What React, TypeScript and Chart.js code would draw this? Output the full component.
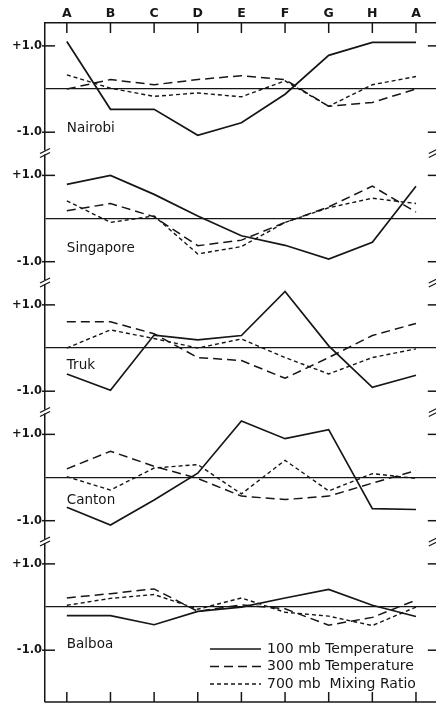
import React, { useEffect, useRef } from 'react';
import { Chart, registerables } from 'chart.js';

Chart.register(...registerables);

// ---- data ----
const categories = ['A', 'B', 'C', 'D', 'E', 'F', 'G', 'H', 'A'];
const stations = ['Nairobi', 'Singapore', 'Truk', 'Canton', 'Balboa'];
const seriesNames = ['100 mb Temperature', '300 mb Temperature', '700 mb  Mixing Ratio'];
const yTickValues = [-1, 0, 1];

const nairobi100 = [1.1, -0.47, -0.47, -1.07, -0.78, -0.12, 0.78, 1.08, 1.08];
const nairobi300 = [0.0, 0.22, 0.1, 0.22, 0.31, 0.22, -0.4, -0.31, 0.0];
const nairobi700 = [0.33, 0.02, -0.17, -0.09, -0.18, 0.19, -0.4, 0.1, 0.29];

const singapore100 = [0.79, 1.0, 0.56, 0.06, -0.4, -0.62, -0.94, -0.55, 0.75];
const singapore300 = [0.18, 0.35, 0.04, -0.63, -0.5, -0.09, 0.27, 0.75, 0.15];
const singapore700 = [0.41, -0.09, 0.06, -0.82, -0.65, -0.09, 0.25, 0.47, 0.35];

const truk100 = [-0.6, -0.98, 0.3, 0.19, 0.29, 1.31, 0.05, -0.91, -0.63];
const truk300 = [0.61, 0.61, 0.33, -0.22, -0.29, -0.7, -0.22, 0.29, 0.57];
const truk700 = [0.0, 0.42, 0.22, 0.0, 0.21, -0.22, -0.6, -0.22, -0.02];

const canton100 = [-0.69, -1.1, -0.52, 0.1, 1.31, 0.9, 1.11, -0.72, -0.74];
const canton300 = [0.2, 0.61, 0.26, -0.02, -0.43, -0.51, -0.43, -0.13, 0.16];
const canton700 = [0.02, -0.29, 0.22, 0.3, -0.38, 0.4, -0.31, 0.09, -0.02];

const balboa100 = [-0.2, -0.2, -0.41, -0.1, 0.0, 0.21, 0.41, 0.04, -0.22];
const balboa300 = [0.21, 0.31, 0.42, -0.1, 0.05, -0.04, -0.42, -0.24, 0.16];
const balboa700 = [0.04, 0.2, 0.29, -0.05, 0.21, -0.12, -0.21, -0.43, 0.0];

const stationSeries = [
  [nairobi100, nairobi300, nairobi700],
  [singapore100, singapore300, singapore700],
  [truk100, truk300, truk700],
  [canton100, canton300, canton700],
  [balboa100, balboa300, balboa700],
];

// axis ranges per panel
const panelMin = [-1.47, -1.47, -1.47, -1.47, -2.2];
const panelMax = [1.53, 1.53, 1.53, 1.53, 1.53];
// value level at which the station name sits
const labelLevel = [-0.99, -0.77, -0.49, -0.61, -0.95];

// ---- styles ----
const INK = '#161616';
const FONT = '"DejaVu Sans", "Liberation Sans", sans-serif';
const seriesDash = [[], [9, 5], [4, 3]];
const seriesWidth = [1.7, 1.5, 1.4];

export default function App() {
  const ref = useRef<HTMLCanvasElement | null>(null);

  useEffect(() => {
    document.body.style.margin = '0';
    const canvas = ref.current;
    if (!canvas) return;

    const datasets: any[] = [];
    stations.forEach((st, i) => {
      stationSeries[i].forEach((vals, k) => {
        datasets.push({
          label: seriesNames[k],
          station: st,
          data: vals,
          yAxisID: 'y' + i,
          borderColor: INK,
          borderWidth: seriesWidth[k],
          borderDash: seriesDash[k],
          pointRadius: 0,
          tension: 0,
          fill: false,
        });
      });
    });

    const scales: any = {
      x: {
        type: 'category',
        labels: categories,
        position: 'top',
        offset: true,
        grid: { display: false, drawTicks: false },
        border: { display: true, color: INK, width: 1.5 },
        ticks: {
          autoSkip: false,
          maxRotation: 0,
          padding: 2,
          color: INK,
          font: { family: FONT, size: 12.5, weight: 'bold' },
        },
        afterFit: (s: any) => {
          s.height = 23;
        },
      },
    };
    stations.forEach((_, i) => {
      scales['y' + i] = {
        type: 'linear',
        position: 'left',
        stack: 'panels',
        stackWeight: panelMax[i] - panelMin[i],
        weight: stations.length - i,
        min: panelMin[i],
        max: panelMax[i],
        afterBuildTicks: (s: any) => {
          s.ticks = yTickValues.map((v) => ({ value: v }));
        },
        ticks: {
          padding: 3,
          color: INK,
          font: { family: FONT, size: 11.5, weight: 'bold' },
          callback: (v: number) => (v === 0 ? '' : (v > 0 ? '+' : '-') + Math.abs(v).toFixed(1)),
        },
        grid: {
          drawTicks: false,
          lineWidth: 1.2,
          color: (c: any) => (c.tick && c.tick.value === 0 ? INK : 'rgba(0,0,0,0)'),
        },
        border: { display: true, color: INK, width: 1.5 },
        afterFit: (s: any) => {
          s.width = 45;
          s.paddingTop = 0;
          s.paddingBottom = 0;
        },
      };
    });

    const decor = {
      id: 'decor',
      afterDraw(chart: any) {
        const { ctx, chartArea } = chart;
        const { left, right, top, bottom } = chartArea;
        const xs = chart.scales.x;
        const line = (x1: number, y1: number, x2: number, y2: number) => {
          ctx.beginPath();
          ctx.moveTo(x1, y1);
          ctx.lineTo(x2, y2);
          ctx.stroke();
        };
        ctx.save();
        ctx.strokeStyle = INK;
        ctx.lineWidth = 1.5;
        ctx.setLineDash([]);

        // bottom axis line
        line(left, bottom, right, bottom);
        // inward ticks top & bottom
        categories.forEach((_, i) => {
          const px = xs.getPixelForValue(i);
          line(px, top, px, top + 10);
          line(px, bottom, px, bottom - 10);
        });

        // inward y ticks
        stations.forEach((_, i) => {
          const s = chart.scales['y' + i];
          [-1, 1].forEach((v) => {
            const py = s.getPixelForValue(v);
            line(left - 3, py, left + 10, py);
            line(right - 10, py, right, py);
          });
        });

        // axis break marks
        for (let i = 0; i < stations.length - 1; i++) {
          const b = chart.scales['y' + i].bottom;
          [left, right - 4].forEach((ax) => {
            ctx.fillStyle = '#fff';
            ctx.fillRect(ax - 2, b - 2, 4, 4);
            ctx.lineWidth = 1.3;
            line(ax - 5, b + 1, ax + 5, b - 4);
            line(ax - 5, b + 5, ax + 5, b);
          });
          ctx.lineWidth = 1.5;
        }

        // station names
        ctx.fillStyle = INK;
        ctx.font = `13.5px ${FONT}`;
        ctx.textAlign = 'left';
        ctx.textBaseline = 'alphabetic';
        const lx = xs.getPixelForValue(0);
        stations.forEach((st, i) => {
          const s = chart.scales['y' + i];
          ctx.fillText(st, lx, s.getPixelForValue(labelLevel[i]));
        });

        // legend (from the first station's datasets)
        ctx.font = `14px ${FONT}`;
        ctx.textBaseline = 'middle';
        const legendItems = chart.data.datasets.slice(0, 3);
        legendItems.forEach((ds: any, k: number) => {
          const y = bottom - 53 + k * 17.5;
          ctx.lineWidth = ds.borderWidth;
          ctx.setLineDash(ds.borderDash);
          line(210, y, 261, y);
          ctx.setLineDash([]);
          ctx.fillText(ds.label, 267, y);
        });
        ctx.restore();
      },
    };

    const chart = new Chart(canvas, {
      type: 'line',
      data: { labels: categories, datasets },
      options: {
        responsive: false,
        animation: false,
        layout: { padding: { left: 0, right: 8.2, top: 0, bottom: 1 } },
        plugins: { legend: { display: false }, tooltip: { enabled: false } },
        scales,
      } as any,
      plugins: [decor],
    });
    return () => chart.destroy();
  }, []);

  return (
    <div style={{ width: 436, height: 703, overflow: 'hidden', background: '#fff' }}>
      <canvas ref={ref} width={446} height={703} style={{ display: 'block' }} />
    </div>
  );
}
